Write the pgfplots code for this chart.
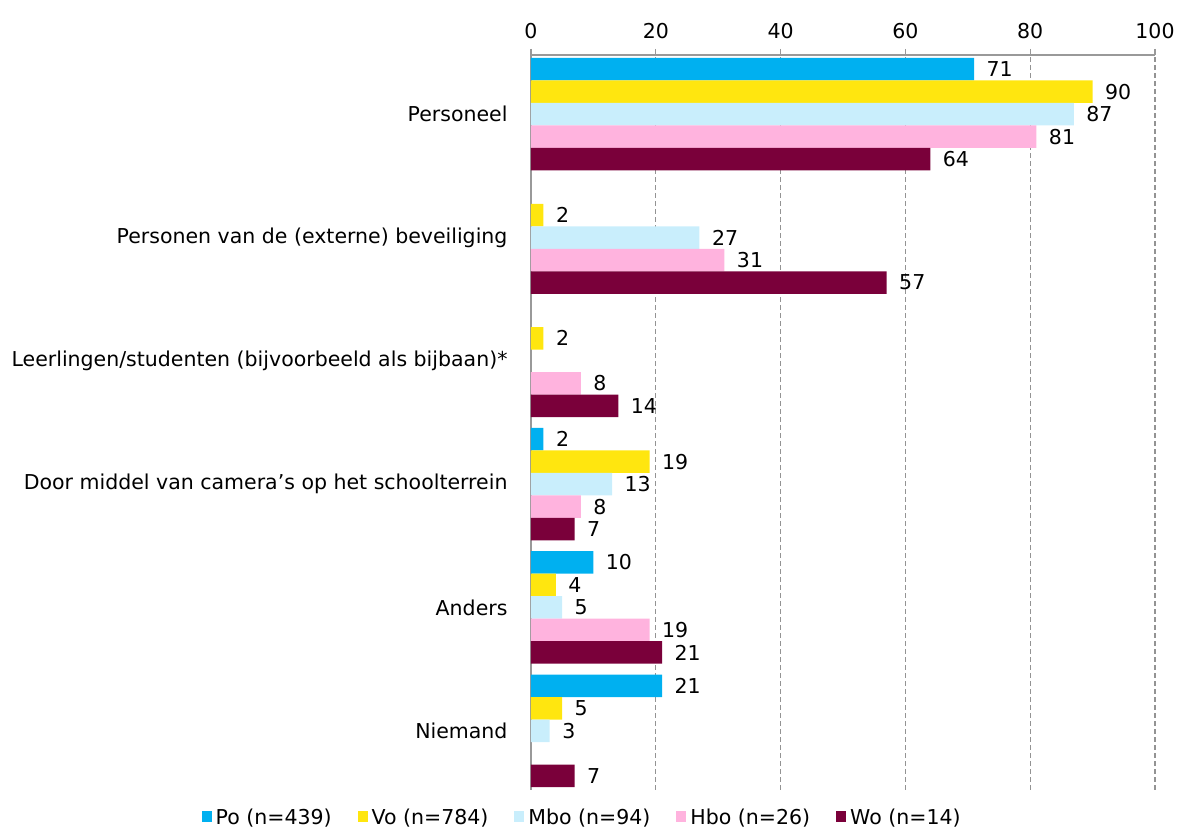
\documentclass[border=0pt]{standalone}
\usepackage{fontspec}
\setmainfont{DejaVu Sans}
\usepackage{pgfplots}
\pgfplotsset{compat=1.18}
\definecolor{cPo}{HTML}{00B0F0}
\definecolor{cVo}{HTML}{FFE60F}
\definecolor{cMbo}{HTML}{C9EEFC}
\definecolor{cHbo}{HTML}{FFB3DE}
\definecolor{cWo}{HTML}{7A003A}
\newcommand{\lbl}{\fontsize{20.5}{24}\selectfont}
\begin{document}
\begin{tikzpicture}[x=1pt,y=1pt]
\useasboundingbox (0,0) rectangle (1184,829);
\begin{axis}[
  at={(531pt,39pt)}, anchor=south west,
  scale only axis, width=624pt, height=735pt,
  xmin=0, xmax=100, ymin=-0.48, ymax=5.48,
  axis x line=top, axis y line=left,
  axis line style={-, draw=gray!80, line width=1.2pt},
  xtick={0,20,40,60,80,100},
  ytick={0,1,2,3,4,5},
  yticklabels={Niemand, Anders, {Door middel van camera’s op het schoolterrein}, {Leerlingen/studenten (bijvoorbeeld als bijbaan)*}, {Personen van de (externe) beveiliging}, Personeel},
  ytick style={draw=none},
  xtick style={draw=gray!80, line width=1.2pt},
  major tick length=6pt,
  xtick align=outside,
  xmajorgrids, grid style={dash pattern=on 5pt off 3pt, gray!85, line width=1.2pt},
  tick label style={font=\lbl},
  /pgf/number format/assume math mode=true,
  yticklabel style={xshift=-14pt},
  xticklabel style={yshift=7pt},
  xbar, bar width=22.5pt,
  nodes near coords,
  every node near coord/.append style={font=\lbl, anchor=west, xshift=9pt, text=black},
  legend style={at={(0.082,-0.038)}, anchor=center, draw=none, font=\lbl, legend columns=5,
    /tikz/every even column/.append style={column sep=24pt},
    /tikz/every odd column/.append style={column sep=2pt}},
  legend image code/.code={\fill[#1] (0pt,-4pt) rectangle (10pt,7pt);},
]
\addplot[fill=cPo, draw=none, bar shift=45pt] coordinates {(71,5) (2,2) (10,1) (21,0)};
\addplot[fill=cVo, draw=none, bar shift=22.5pt] coordinates {(90,5) (2,4) (2,3) (19,2) (4,1) (5,0)};
\addplot[fill=cMbo, draw=none, bar shift=0pt] coordinates {(87,5) (27,4) (13,2) (5,1) (3,0)};
\addplot[fill=cHbo, draw=none, bar shift=-22.5pt] coordinates {(81,5) (31,4) (8,3) (8,2) (19,1)};
\addplot[fill=cWo, draw=none, bar shift=-45pt] coordinates {(64,5) (57,4) (14,3) (7,2) (21,1) (7,0)};
\legend{Po (n=439), Vo (n=784), Mbo (n=94), Hbo (n=26), Wo (n=14)}
\end{axis}
\end{tikzpicture}
\end{document}
